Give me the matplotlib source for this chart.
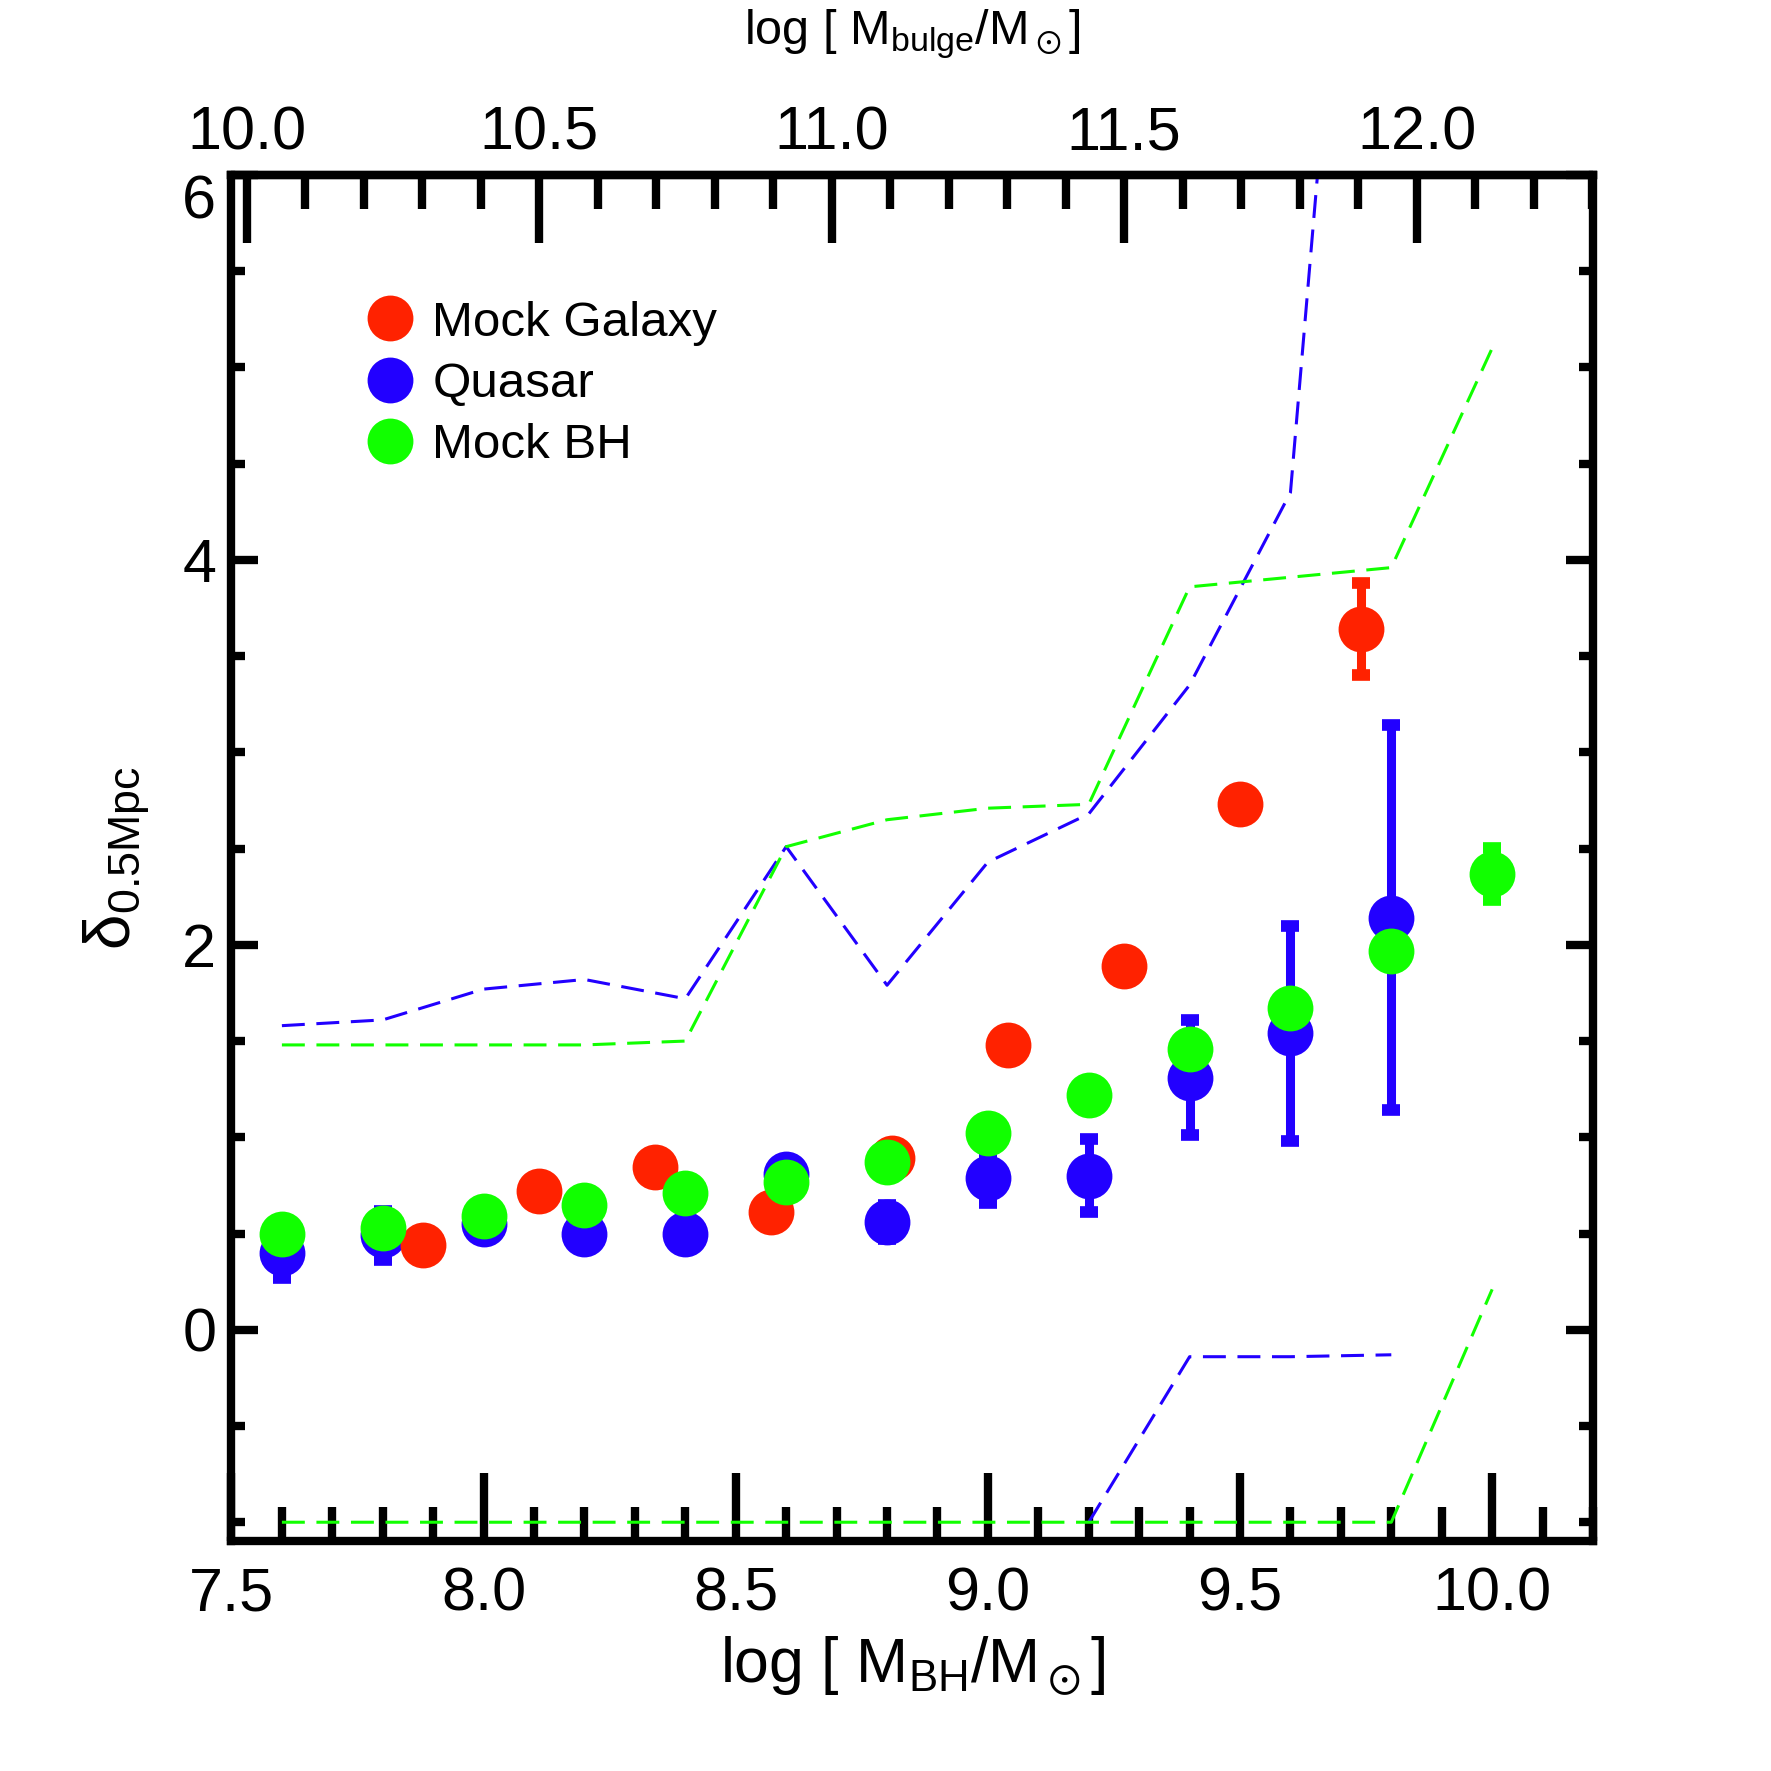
import numpy as np
import matplotlib
matplotlib.use("Agg")
import matplotlib.pyplot as plt
from matplotlib.lines import Line2D
from matplotlib.ticker import MultipleLocator, FormatStrFormatter

# ---------------------------------------------------------------------------
# data
# ---------------------------------------------------------------------------
bh_bins = [7.6, 7.8, 8.0, 8.2, 8.4, 8.6, 8.8, 9.0, 9.2, 9.4, 9.6, 9.8]
quasar_delta = [0.40, 0.49, 0.55, 0.50, 0.50, 0.81, 0.56, 0.79, 0.80, 1.31, 1.54, 2.14]
quasar_err = [0.13, 0.125, 0.05, 0.05, 0.05, 0.05, 0.09, 0.13, 0.19, 0.30, 0.56, 1.00]
quasar_upper = [1.58, 1.61, 1.77, 1.82, 1.72, 2.51, 1.79, 2.43, 2.68, 3.35, 4.35, 10.5]
quasar_lower = [np.nan] * 8 + [-1.0, -0.14, -0.14, -0.13]

mockbh_bins = [7.6, 7.8, 8.0, 8.2, 8.4, 8.6, 8.8, 9.0, 9.2, 9.4, 9.6, 9.8, 10.0]
mockbh_delta = [0.50, 0.53, 0.59, 0.65, 0.71, 0.77, 0.87, 1.02, 1.22, 1.46, 1.67, 1.97, 2.37]
mockbh_err = [0.04, 0.04, 0.04, 0.04, 0.04, 0.04, 0.05, 0.05, 0.05, 0.06, 0.06, 0.07, 0.135]
mockbh_upper = [1.48, 1.48, 1.48, 1.48, 1.50, 2.51, 2.65, 2.71, 2.73, 3.86, 3.91, 3.96, 5.10]
mockbh_lower = [-1.0] * 12 + [0.21]

mockgal_bins = [7.88, 8.11, 8.34, 8.57, 8.81, 9.04, 9.27, 9.50, 9.74]
mockgal_delta = [0.44, 0.72, 0.845, 0.61, 0.89, 1.48, 1.89, 2.73, 3.64]
mockgal_err = [0.04, 0.04, 0.04, 0.05, 0.05, 0.06, 0.06, 0.07, 0.24]

bulge_ticks = [10.0, 10.5, 11.0, 11.5, 12.0]
labels = ["Mock Galaxy", "Quasar", "Mock BH"]

# M_BH - M_bulge relation used for the top axis
BH_AT_1E11 = 8.69
BH_SLOPE = 1.16

RED = "#ff2200"
BLUE = "#2200ff"
GREEN = "#11ff00"


def bh_to_bulge(x):
    return 11.0 + (np.asarray(x) - BH_AT_1E11) / BH_SLOPE


def bulge_to_bh(x):
    return BH_AT_1E11 + BH_SLOPE * (np.asarray(x) - 11.0)


plt.rcParams["font.family"] = ["Liberation Sans", "DejaVu Sans"]
plt.rcParams["mathtext.fontset"] = "custom"
plt.rcParams["mathtext.rm"] = "Liberation Sans"
plt.rcParams["mathtext.it"] = "Liberation Sans:italic"
plt.rcParams["mathtext.fallback"] = "stixsans"

fig = plt.figure(figsize=(17.71, 17.71), dpi=100)
ax = fig.add_axes([0.1307, 0.1296, 0.7688, 0.7716])

dash = (0, (7.5, 3.8))
ax.plot(bh_bins, quasar_upper, color=BLUE, lw=2.2, ls=dash)
ax.plot(bh_bins, quasar_lower, color=BLUE, lw=2.2, ls=dash)
ax.plot(mockbh_bins, mockbh_upper, color=GREEN, lw=2.2, ls=dash)
ax.plot(mockbh_bins, mockbh_lower, color=GREEN, lw=2.2, ls=dash)

# points: error bars first, then the filled circle, series by series
series = [
    (bh_bins, quasar_delta, quasar_err, BLUE),
    (mockgal_bins, mockgal_delta, mockgal_err, RED),
    (mockbh_bins, mockbh_delta, mockbh_err, GREEN),
]
for i, (xs, ys, es, c) in enumerate(series):
    z = 3 + 2 * i
    ax.errorbar(xs, ys, yerr=es, fmt="none", ecolor=c, elinewidth=6.5,
                capsize=6.4, capthick=8.4, zorder=z)
    ax.plot(xs, ys, "o", ms=33, mew=0, color=c, zorder=z + 1)

ax.set_xlim(7.5, 10.2)
ax.set_ylim(-1.1, 6.0)

ax.xaxis.set_major_locator(MultipleLocator(0.5))
ax.xaxis.set_minor_locator(MultipleLocator(0.1))
ax.xaxis.set_major_formatter(FormatStrFormatter("%.1f"))
ax.yaxis.set_major_locator(MultipleLocator(2))
ax.yaxis.set_minor_locator(MultipleLocator(0.5))
ax.yaxis.set_major_formatter(FormatStrFormatter("%d"))

for s in ax.spines.values():
    s.set_linewidth(6)

ax.tick_params(axis="both", which="both", direction="in", width=6, labelsize=44)
ax.tick_params(axis="x", which="major", length=49, pad=18, top=False)
ax.tick_params(axis="x", which="minor", length=24.5, top=False)
ax.tick_params(axis="y", which="major", length=19.5, pad=11, right=True)
ax.tick_params(axis="y", which="minor", length=10, right=True)

sec = ax.secondary_xaxis("top", functions=(bh_to_bulge, bulge_to_bh))
sec.set_xticks(bulge_ticks)
sec.xaxis.set_minor_locator(MultipleLocator(0.1))
sec.xaxis.set_major_formatter(FormatStrFormatter("%.1f"))
sec.spines["top"].set_linewidth(6)
sec.tick_params(axis="x", which="both", direction="in", width=6, labelsize=44)
sec.tick_params(axis="x", which="major", length=49, pad=9)
sec.tick_params(axis="x", which="minor", length=24.5)
sec.set_xlabel(r"log [ M$_{\rm bulge}$/M$_\odot$]", fontsize=35, labelpad=44)

ax.set_xlabel(r"log [ M$_{\rm BH}$/M$_\odot$]", fontsize=45, labelpad=8)
ax.set_ylabel(r"δ$_{\rm 0.5Mpc}$", fontsize=46, labelpad=22)

handles = [Line2D([], [], marker="o", ls="none", ms=33, mew=0, color=c)
           for c in (RED, BLUE, GREEN)]
ax.legend(handles, labels, loc="upper left", bbox_to_anchor=(0.0986, 0.908),
          frameon=False, fontsize=35.5, handlelength=1.0, handletextpad=0.35,
          labelspacing=0.33, borderpad=0, borderaxespad=0, numpoints=1)

# the topmost y label hangs below its tick, as in the original
fig.canvas.draw()
for tick in ax.yaxis.get_major_ticks():
    if abs(tick.get_loc() - 6.0) < 1e-6:
        tick.label1.set_verticalalignment("top")

fig.savefig("out.png", dpi=100)
